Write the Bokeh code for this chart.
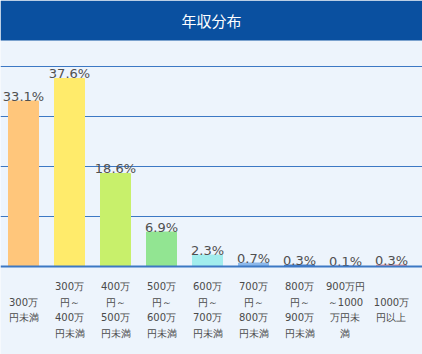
import numpy as np
from bokeh.plotting import figure
from bokeh.models import ColumnDataSource, Range1d, Span, BoxAnnotation, Label
from bokeh.core.properties import value
from bokeh.embed import file_html
from bokeh.resources import INLINE

# ---- data ----
title_text = "年収分布"
categories = [
    "300万\n円未満",
    "300万\n円～\n400万\n円未満",
    "400万\n円～\n500万\n円未満",
    "500万\n円～\n600万\n円未満",
    "600万\n円～\n700万\n円未満",
    "700万\n円～\n800万\n円未満",
    "800万\n円～\n900万\n円未満",
    "900万円\n～1000\n万円未\n満",
    "1000万\n円以上",
]
shares = [33.1, 37.6, 18.6, 6.9, 2.3, 0.7, 0.3, 0.1, 0.3]
share_labels = ["33.1%", "37.6%", "18.6%", "6.9%", "2.3%", "0.7%", "0.3%", "0.1%", "0.3%"]
bar_colors = ["#FFC67B", "#FFEB6B", "#C8F06B", "#92E592", "#A2EDED",
              "#8CB8EA", "#4A7FC8", "#B4A8E6", "#E8949C"]
grid_ticks = [10, 20, 30, 40]

# ---- layout constants ----
W, H = 422, 354
PX_PER_UNIT = 5.0
ZERO_PX = 266.0            # page y of zero line
TITLE_H = 40
SLOT = 46.0

BG = "#EDF4FC"
HEADER = "#0A50A0"
LINE = "#3C78C4"

x = np.arange(len(shares))
x_start = -0.5
x_end = x_start + W / SLOT
y_top = ZERO_PX / PX_PER_UNIT
y_bottom = -(H - ZERO_PX) / PX_PER_UNIT

src = ColumnDataSource(dict(
    x=x, top=shares, color=bar_colors, lab=share_labels,
    lab_y=[v + 5 / PX_PER_UNIT for v in shares],
    cat=categories,
    cat_y=[-(309.5 - ZERO_PX) / PX_PER_UNIT] * len(shares),
))

p = figure(width=W, height=H, output_backend="svg", toolbar_location=None,
           x_range=Range1d(x_start, x_end), y_range=Range1d(y_bottom, y_top),
           min_border=0, background_fill_color=BG, border_fill_color=BG,
           outline_line_color=None)
p.xaxis.visible = False
p.yaxis.visible = False
p.grid.visible = False

for t in grid_ticks:
    p.add_layout(Span(location=t, dimension="width", line_color=LINE,
                      line_width=1, level="underlay"))

p.vbar(x="x", top="top", bottom=0, width=30 / SLOT, color="color", source=src)

p.add_layout(Span(location=0, dimension="width", line_color=LINE, line_width=2))

p.text(x="x", y="lab_y", text="lab", source=src, text_align="center",
       text_baseline="alphabetic", text_font=value("DejaVu Sans"),
       text_font_size="13px", text_color="#505050")

p.text(x="x", y="cat_y", text="cat", source=src, text_align="center",
       text_baseline="middle", text_font=value("DejaVu Sans"),
       text_font_size="10px", text_color="#4a4a4a", text_line_height=1.45)

# header bar
header_bottom = (ZERO_PX - TITLE_H) / PX_PER_UNIT
p.add_layout(BoxAnnotation(bottom=header_bottom, fill_color=HEADER, fill_alpha=1,
                           line_color=None, level="overlay"))
p.add_layout(Label(x=(x_start + x_end) / 2, y=(ZERO_PX - TITLE_H / 2) / PX_PER_UNIT,
                   text=title_text, text_align="center", text_baseline="middle",
                   text_color="white", text_font_size="15px",
                   text_font="Noto Sans CJK JP", level="overlay"))

open("out.html", "w").write(file_html(p, INLINE))
